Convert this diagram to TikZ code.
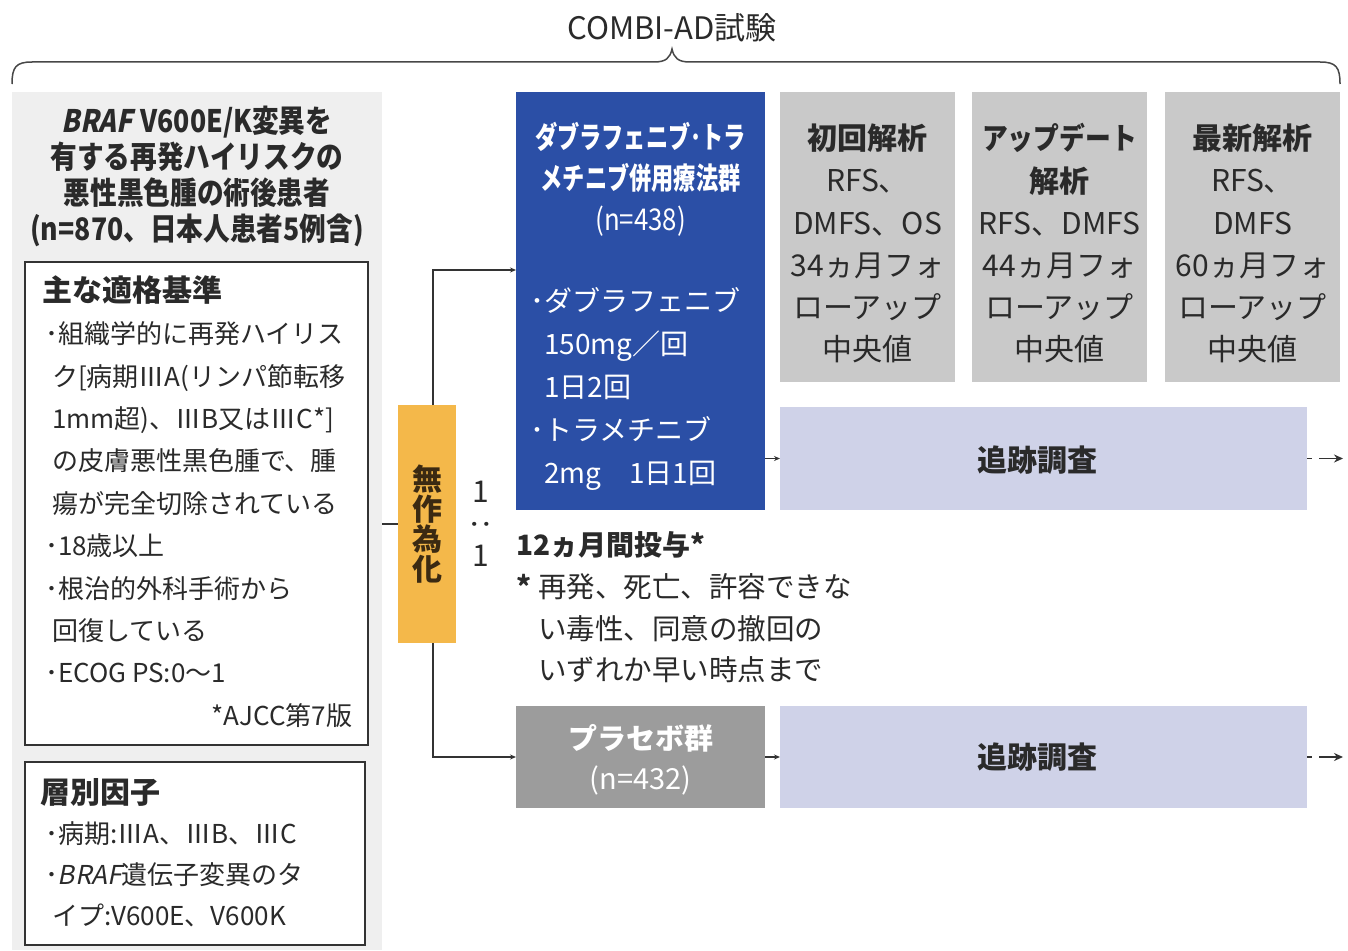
\documentclass[tikz,border=0pt]{standalone}
\usepackage{fontspec}
\setmainfont{Noto Sans CJK JP}[AutoFakeSlant=0.2]
\newfontfamily\hdrfont{Noto Sans CJK JP}[FakeStretch=0.86]
\newfontfamily\hdrslant{Noto Sans CJK JP}[FakeStretch=0.86, FakeSlant=0.2]
\newfontfamily\condfont{Noto Sans CJK JP}[FakeStretch=0.74]
\newfontfamily\midfont{Noto Sans CJK JP}[FakeStretch=0.86]
\usetikzlibrary{arrows.meta,backgrounds}
\definecolor{cblue}{HTML}{2B4FA6}
\definecolor{cgrey}{HTML}{C9C9C9}
\definecolor{cplc}{HTML}{9C9C9C}
\definecolor{clav}{HTML}{CFD2E8}
\definecolor{cpanel}{HTML}{EFEFEF}
\definecolor{corange}{HTML}{F4B84A}
\definecolor{cline}{HTML}{333333}
\definecolor{ctext}{HTML}{2A2A2A}
\definecolor{cbrown}{HTML}{3B2A12}
\newcommand{\fsz}[2]{\fontsize{#1pt}{#2pt}\selectfont}
\begin{document}
\begin{tikzpicture}[x=1pt,y=-1pt,
  every node/.style={inner sep=0pt, outer sep=0pt, text=ctext},
  box/.style={anchor=north west, draw=none},
  framebox/.style={anchor=north west, draw=cline, line width=2pt, fill=white},
  conn/.style={draw=cline, line width=1.4pt},
  arr/.style={draw=cline, line width=1.4pt, -{Stealth[length=6pt,width=5pt]}},
  dasharr/.style={draw=cline, line width=1.6pt, dash pattern=on 5pt off 7pt on 40pt, -{Stealth[length=9pt,width=8pt]}},
  bracesty/.style={draw=cline!90, line width=1.5pt},
  body/.style={font=\fsz{26}{42.4}},
]
\useasboundingbox (0,0) rectangle (1348,950);
\fill[white] (0,0) rectangle (1348,950);

% title and brace
\node[font=\fsz{31}{36}] (title) at (672,28) {COMBI-AD試験};
\draw[bracesty] (12,84) .. controls (12,67) and (16,62) .. (32,62) -- (654,62)
  .. controls (666,62) and (670,58) .. (672,49)
  .. controls (674,58) and (678,62) .. (690,62) -- (1320,62)
  .. controls (1336,62) and (1340,67) .. (1340,84);

% left panel
\node[box, fill=cpanel, minimum width=370pt, minimum height=858pt] (pan) at (12,92) {};
\node[align=center, font=\hdrfont\bfseries\fsz{31}{36}] (hdr) at (197,176)
  {{\hdrslant\bfseries BRAF}\hspace{8pt}V600E/K変異を\\有する再発ハイリスクの\\悪性黒色腫の術後患者\\(n=870、日本人患者5例含)};

\node[framebox, minimum width=343pt, minimum height=483pt] (elig) at (25,262) {};
\node[anchor=west, font=\bfseries\fsz{30}{36}] (eligt) at (42,290) {主な適格基準};
\node[anchor=west, align=left, body] (eligb) at (45,502.5)
  {･組織学的に再発ハイリス\\\hspace*{7pt}ク[病期ⅢA(リンパ節転移\\\hspace*{7pt}1mm超)、ⅢB又はⅢC*]\\\hspace*{7pt}の皮膚悪性黒色腫で、腫\\\hspace*{7pt}瘍が完全切除されている\\･18歳以上\\･根治的外科手術から\\\hspace*{7pt}回復している\\･ECOG PS:0～1};
\node[anchor=east, font=\fsz{26}{30}] (ajcc) at (352,716) {*AJCC第7版};

\node[framebox, minimum width=340pt, minimum height=183pt] (strat) at (25,762) {};
\node[anchor=west, font=\bfseries\fsz{30}{36}] (stratt) at (40,792) {層別因子};
\node[anchor=west, align=left, font=\fsz{26}{41}] (stratb) at (45,874)
  {･病期:ⅢA、ⅢB、ⅢC\\･\textit{BRAF}遺伝子変異のタ\\\hspace*{7pt}イプ:V600E、V600K};

% randomisation
\node[box, fill=corange, minimum width=58pt, minimum height=238pt] (rand) at (398,405) {};
\node[align=center, font=\bfseries\fsz{30}{30}, text=cbrown] (randt) at (rand.center) {無\\作\\為\\化};
\node[font=\fsz{30}{30}] (r1) at (481,492) {1};
\node[font=\fsz{30}{30}, rotate=90] (rc) at (481,524) {:};
\node[font=\fsz{30}{30}] (r2) at (481,556) {1};

% treatment arm
\node[box, fill=cblue, minimum width=249pt, minimum height=418pt] (blue) at (516,92) {};
\node[align=center, font=\condfont\bfseries\fsz{30}{41}, text=white] (bluet) at (640.5,179)
  {ダブラフェニブ･トラ\\メチニブ併用療法群\\{\midfont\mdseries (n=438)}};
\node[anchor=west, align=left, font=\fsz{28}{43}, text=white] (blueb) at (530,389)
  {･ダブラフェニブ\\\hspace*{14pt}150mg／回\\\hspace*{14pt}1日2回\\･トラメチニブ\\\hspace*{14pt}2mg　1日1回};

\node[anchor=west, font=\bfseries\fsz{28}{34}] (dur) at (516,545) {12ヵ月間投与*};
\node[anchor=west, align=left, font=\fsz{28.5}{41.5}] (durn) at (516,628.5)
  {\makebox[22pt][l]{\textbf{*}}再発、死亡、許容できな\\\hspace*{22pt}い毒性、同意の撤回の\\\hspace*{22pt}いずれか早い時点まで};

% placebo arm
\node[box, fill=cplc, minimum width=249pt, minimum height=102pt] (plc) at (516,706) {};
\node[align=center, font=\fsz{29}{40}, text=white] (plct) at (640.5,760) {\textbf{プラセボ群}\\(n=432)};

% analyses
\node[box, fill=cgrey, minimum width=175pt, minimum height=290pt] (a1) at (780,92) {};
\node[box, fill=cgrey, minimum width=175pt, minimum height=290pt] (a2) at (972,92) {};
\node[box, fill=cgrey, minimum width=175pt, minimum height=290pt] (a3) at (1165,92) {};
\node[align=center, font=\fsz{30}{42.2}] (a1t) at (867.5,243.5)
  {\textbf{初回解析}\\RFS、\\DMFS、OS\\34ヵ月フォ\\ローアップ\\中央値};
\node[align=center, font=\fsz{30}{42.2}] (a2t) at (1059.5,243.5)
  {{\hdrfont\bfseries アップデート}\\\textbf{解析}\\RFS、DMFS\\44ヵ月フォ\\ローアップ\\中央値};
\node[align=center, font=\fsz{30}{42.2}] (a3t) at (1252.5,243.5)
  {\textbf{最新解析}\\RFS、\\DMFS\\60ヵ月フォ\\ローアップ\\中央値};

% follow-up
\node[box, fill=clav, minimum width=527pt, minimum height=103pt] (fu1) at (780,407) {};
\node[box, fill=clav, minimum width=527pt, minimum height=102pt] (fu2) at (780,706) {};
\node[font=\bfseries\fsz{30}{30}] (fu1t) at (1037,460) {追跡調査};
\node[font=\bfseries\fsz{30}{30}] (fu2t) at (1037,757) {追跡調査};

% connectors
\coordinate (bt) at (516,270);
\coordinate (e1) at ([xshift=36pt]fu1.east);
\coordinate (e2) at ([xshift=36pt]fu2.east);
\draw[conn] (pan.east |- rand.west) -- (rand.west);
\draw[arr] ([xshift=6pt]rand.north) |- (bt);
\draw[arr] ([xshift=6pt]rand.south) |- (plc.west);
\draw[arr] (blue.east |- fu1.west) -- (fu1.west);
\draw[arr] (plc.east) -- (fu2.west);
\draw[dasharr] (fu1.east) -- (e1);
\draw[dasharr] (fu2.east) -- (e2);
\begin{scope}[on background layer]
\draw[arr] (a1.south) -- (a1.south |- fu2.north);
\draw[arr] (a2.south) -- (a2.south |- fu2.north);
\draw[arr] (a3.south) -- (a3.south |- fu2.north);
\end{scope}
\end{tikzpicture}
\end{document}
